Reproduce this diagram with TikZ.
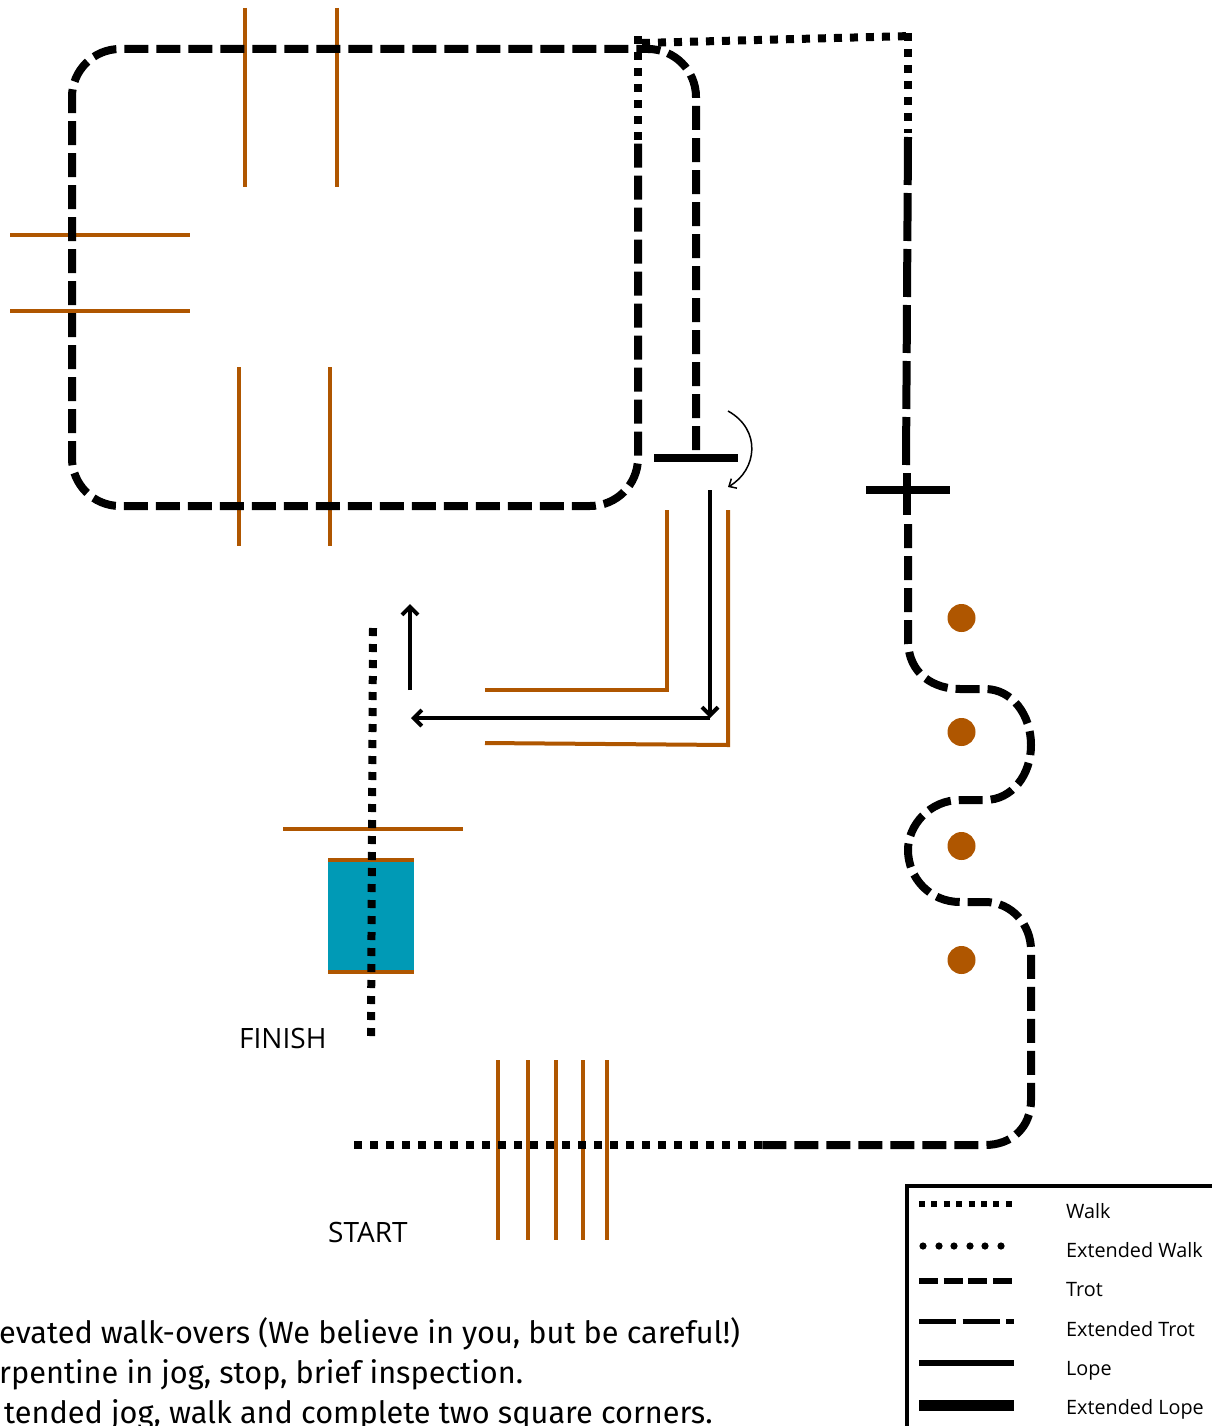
\documentclass[tikz,border=0pt]{standalone}
\usepackage{fontspec}
\setmainfont{Open Sans}
\newfontfamily\notefont{Fira Sans}
\usetikzlibrary{arrows.meta}
\definecolor{poleorange}{HTML}{AF5600}
\definecolor{boxteal}{HTML}{009AB6}
\tikzset{
	walkline/.style={black, line width=8pt, dash pattern=on 8pt off 8pt},
	trotline/.style={black, line width=8pt, dash pattern=on 24pt off 8pt},
	longline/.style={black, line width=8pt, dash pattern=on 48pt off 8pt},
	stopbar/.style={black, line width=8pt},
	pole/.style={poleorange, line width=4pt},
	guide/.style={black, line width=4pt, -{Straight Barb[length=8pt,width=16pt,line width=4pt]}},
	marker/.style={circle, fill=poleorange, inner sep=0pt, minimum size=28pt},
	keytext/.style={anchor=base west, font=\fontsize{19.8}{24}\selectfont, inner sep=0pt},
	labeltext/.style={anchor=base west, font=\fontsize{28}{32}\selectfont, inner sep=0pt},
	notetext/.style={anchor=base west, font=\notefont\fontsize{30.7}{40}\selectfont, inner sep=0pt}
}
\begin{document}
\begin{tikzpicture}[x=1pt, y=-1pt]
	\useasboundingbox (0, 0) rectangle (1212, 1426);
	% poles
	\foreach \px in {245, 337} \draw[pole] (\px, 8) -- (\px, 187);
	\foreach \py in {235, 311} \draw[pole] (10, \py) -- (190, \py);
	\foreach \px in {239, 330} \draw[pole] (\px, 367) -- (\px, 546);
	\foreach \px in {498, 528, 556, 583, 607} \draw[pole] (\px, 1060) -- (\px, 1240);
	\draw[pole] (485, 690) -- (667, 690) -- (667, 510);
	\draw[pole] (485, 743) -- (728, 745) -- (728, 510);
	\draw[pole] (283, 829) -- (463, 829);
	% finish box
	\fill[boxteal] (328, 859) rectangle (414, 972);
	\draw[poleorange, line width=4pt] (328, 860) -- (414, 860);
	\draw[poleorange, line width=4pt] (328, 971.5) -- (414, 971.5);
	% gait lines
	\draw[trotline, rounded corners=48pt]
		(696, 450) -- (696, 49) -- (72, 49) -- (72, 506) -- (638, 506) -- (638, 140);
	\draw[walkline] (638, 140) -- (638, 36);
	\draw[walkline] (642, 43) -- (912, 36);
	\draw[walkline] (908, 33) -- (908, 133);
	\draw[longline] (908, 137) -- (906, 465);
	\draw[stopbar] (907, 473) -- (907, 515);
	\draw[stopbar] (866, 490) -- (950, 490);
	\draw[stopbar] (654, 458) -- (738, 458);
	\draw[trotline] (908, 524) -- (908, 640)
		.. controls (908, 675) and (935, 689) .. (960, 689)
		-- (985, 689)
		.. controls (1012, 689) and (1031, 715) .. (1031, 745)
		.. controls (1031, 775) and (1012, 800) .. (985, 800)
		-- (960, 800)
		.. controls (930, 800) and (908, 825) .. (908, 850)
		.. controls (908, 878) and (930, 902) .. (960, 902)
		-- (985, 902)
		.. controls (1012, 902) and (1031, 925) .. (1031, 950)
		-- (1031, 1100)
		.. controls (1031, 1127) and (1012, 1145) .. (985, 1145)
		-- (762, 1145);
	\draw[walkline] (762, 1145) -- (353, 1145);
	\draw[walkline] (373, 628) -- (371, 1036);
	% cones
	\foreach \cy [count=\ci] in {618, 732, 846, 960}
		\node[marker] (cone\ci) at (961.5, \cy) {};
	% arrows
	\draw[guide] (710, 490) -- (710, 718);
	\draw[guide] (710, 718) -- (411, 718);
	\draw[guide] (410, 690) -- (410, 604);
	\draw[black, line width=1.5pt, -{Straight Barb[length=6pt,width=11pt,line width=1.5pt]}]
		(728, 411) .. controls (762, 430) and (757, 470) .. (728, 487);
	% labels
	\node[labeltext] (finish) at (239, 1048) {FINISH};
	\node[labeltext] (start) at (328, 1242) {START};
	\node[notetext] (noteone) at (-1, 1343) {evated walk-overs (We believe in you, but be careful!)};
	\node[notetext] (notetwo) at (-1, 1383) {rpentine in jog, stop, brief inspection.};
	\node[notetext] (notethree) at (4, 1423) {tended jog, walk and complete two square corners.};
	% key
	\draw[black, line width=4pt] (907, 1426) -- (907, 1186) -- (1212, 1186);
	\draw[black, line width=6pt, dash pattern=on 6pt off 6.4pt] (919, 1204) -- (1012, 1204);
	\foreach \dx [count=\di] in {923, 939, 954, 970, 985, 1001}
		\fill[black] (\dx, 1246) circle (3.6pt);
	\draw[black, line width=6pt, dash pattern=on 19pt off 5.7pt] (919, 1281) -- (1012, 1281);
	\draw[black, line width=5pt, dash pattern=on 37pt off 6.5pt] (919, 1321) -- (1014, 1321);
	\draw[black, line width=6pt] (919, 1363) -- (1014, 1363);
	\draw[black, line width=11pt] (919, 1405) -- (1014, 1405);
	\node[keytext] (keywalk) at (1066, 1218) {Walk};
	\node[keytext] (keyextwalk) at (1066, 1257) {Extended Walk};
	\node[keytext] (keytrot) at (1066, 1296) {Trot};
	\node[keytext] (keyexttrot) at (1066, 1336) {Extended Trot};
	\node[keytext] (keylope) at (1066, 1375) {Lope};
	\node[keytext] (keyextlope) at (1066, 1414) {Extended Lope};
\end{tikzpicture}
\end{document}
